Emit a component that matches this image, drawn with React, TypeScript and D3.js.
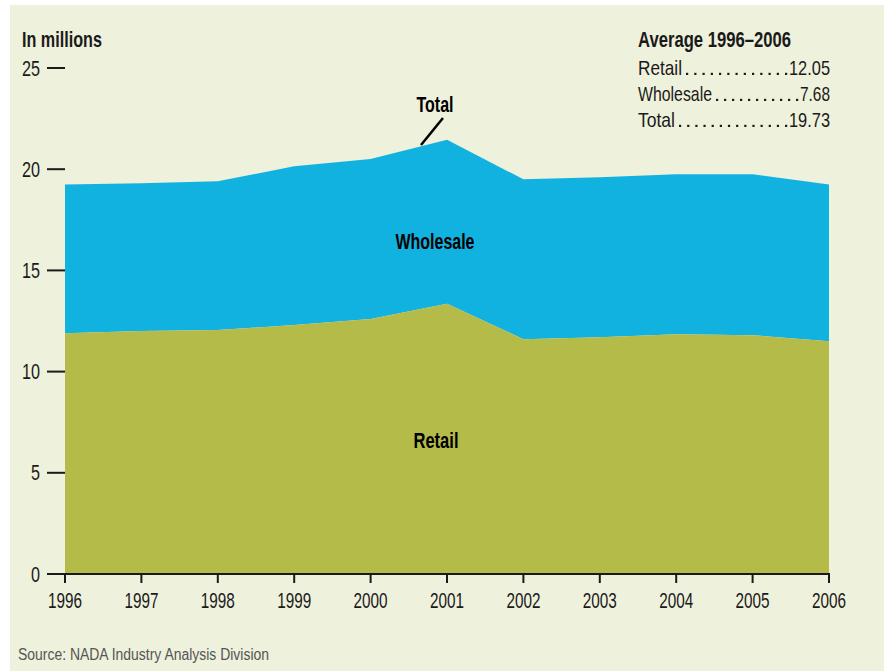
import React from "react";
import * as d3 from "d3";

const years = [1996, 1997, 1998, 1999, 2000, 2001, 2002, 2003, 2004, 2005, 2006];
const retail = [11.9, 12.0, 12.05, 12.3, 12.6, 13.35, 11.6, 11.7, 11.85, 11.8, 11.5];
const wholesale = [7.35, 7.3, 7.35, 7.85, 7.9, 8.1, 7.9, 7.9, 7.9, 7.95, 7.75];
const yTicks = [0, 5, 10, 15, 20, 25];
const avgLabels = ["Retail", "Wholesale", "Total"];
const avgValues = ["12.05", "7.68", "19.73"];

const FONT = "'Liberation Sans', Arial, sans-serif";
const BG = "#EEF1DC";
const BLUE = "#12B2E0";
const OLIVE = "#B5BB48";
const INK = "#1a1a1a";

type TProps = {
  x: number;
  y: number;
  size: number;
  w: number;
  bold?: boolean;
  anchor?: "start" | "middle" | "end";
  fill?: string;
  children: string;
};

function T({ x, y, size, w, bold, anchor = "start", fill = INK, children }: TProps) {
  return (
    <text
      x={x}
      y={y}
      fontSize={size}
      fontWeight={bold ? "bold" : "normal"}
      textAnchor={anchor}
      fill={fill}
      textLength={w}
      lengthAdjust="spacingAndGlyphs"
    >
      {children}
    </text>
  );
}

export default function App() {
  const x = d3.scaleLinear().domain([1996, 2006]).range([65, 829]);
  const y = d3.scaleLinear().domain([0, 25]).range([574, 68]);

  const rows = years.map((yr, i) => ({ yr, r: retail[i], w: wholesale[i] }));

  const retailArea = d3
    .area<{ yr: number; r: number; w: number }>()
    .x((d) => x(d.yr))
    .y0(() => y(0))
    .y1((d) => y(d.r));
  const wholesaleArea = d3
    .area<{ yr: number; r: number; w: number }>()
    .x((d) => x(d.yr))
    .y0((d) => y(d.r))
    .y1((d) => y(d.r + d.w));

  const legendSize = 21;
  const legendX = 638;
  const legendRight = 830;
  const legendY = [75, 101, 127];
  const labelW = [44, 74, 37];
  const valueW = [41, 30, 41];

  return (
    <svg
      width={884}
      height={671}
      style={{ position: "absolute", left: 0, top: 0, display: "block" }}
      fontFamily={FONT}
    >
      <rect x={0} y={0} width={884} height={671} fill="#ffffff" />
      <rect x={10} y={5} width={874} height={666} fill={BG} />

      <path d={wholesaleArea(rows) || ""} fill={BLUE} />
      <path d={retailArea(rows) || ""} fill={OLIVE} />

      {/* y axis ticks */}
      {yTicks.map((t) => (
        <g key={t}>
          <line x1={47} x2={65} y1={y(t)} y2={y(t)} stroke={INK} strokeWidth={2} />
          <T x={40} y={y(t) + 7.5} anchor="end" size={21.5} w={String(t).length * 9}>
            {String(t)}
          </T>
        </g>
      ))}

      {/* x axis */}
      <line x1={47} x2={830} y1={y(0)} y2={y(0)} stroke={INK} strokeWidth={2} />
      {years.map((yr) => (
        <g key={yr}>
          <line x1={x(yr)} x2={x(yr)} y1={y(0)} y2={y(0) + 9} stroke={INK} strokeWidth={2} />
          <T x={x(yr)} y={608} anchor="middle" size={21.5} w={34}>
            {String(yr)}
          </T>
        </g>
      ))}

      <T x={22} y={47} size={21.5} bold w={80}>
        In millions
      </T>

      {/* series labels */}
      <T x={435} y={112} anchor="middle" size={21.5} bold fill="#000" w={37}>
        Total
      </T>
      <line x1={443} y1={118} x2={421} y2={145} stroke="#000" strokeWidth={2.5} />
      <T x={435} y={249} anchor="middle" size={21.5} bold fill="#000" w={79}>
        Wholesale
      </T>
      <T x={436} y={448} anchor="middle" size={21.5} bold fill="#000" w={45}>
        Retail
      </T>

      {/* legend */}
      <T x={legendX} y={47} size={21.5} bold w={153}>
        Average 1996–2006
      </T>
      {avgLabels.map((lab, i) => {
        const start = legendX + labelW[i] + 5;
        const end = legendRight - valueW[i] - 3;
        const n = Math.max(1, Math.round((end - start) / 8.3));
        const step = (end - start) / n;
        const dots = d3.range(n + 1).map((k) => start + k * step);
        return (
          <g key={lab}>
            <T x={legendX} y={legendY[i]} size={legendSize} w={labelW[i]}>
              {lab}
            </T>
            {dots.map((dx, k) => (
              <rect key={k} x={dx - 1} y={legendY[i] - 2.2} width={2.2} height={2.2} fill={INK} />
            ))}
            <T x={legendRight} y={legendY[i]} anchor="end" size={legendSize} w={valueW[i]}>
              {avgValues[i]}
            </T>
          </g>
        );
      })}

      <T x={18} y={660} size={16} fill="#555" w={251}>
        Source: NADA Industry Analysis Division
      </T>
    </svg>
  );
}
